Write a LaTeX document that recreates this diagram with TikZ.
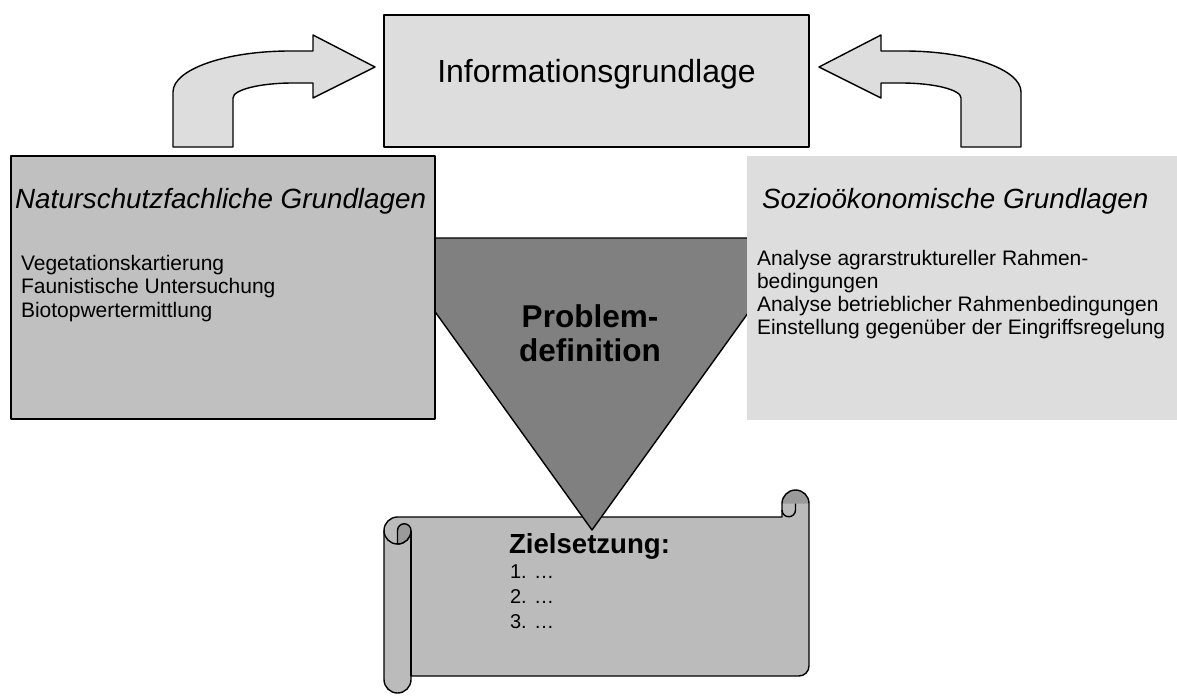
\documentclass[tikz,border=0pt]{standalone}
\usepackage{fontspec}
\setmainfont{Liberation Sans}

\definecolor{infofill}{HTML}{DDDDDD}
\definecolor{naturfill}{HTML}{C0C0C0}
\definecolor{soziofill}{HTML}{DDDDDD}
\definecolor{problemfill}{HTML}{808080}
\definecolor{scrollfill}{HTML}{BBBBBB}
\definecolor{curlfill}{HTML}{9A9A9A}

% outline of the "Zielsetzung" scroll (body plus both rolls)
\newcommand\zielscrollpath{(384,530.5) arc[start angle=180,end angle=90,radius=13.5pt]
  -- (782,517) -- (782,503.5) arc[start angle=180,end angle=0,radius=13.5pt]
  -- (809,666) arc[start angle=0,end angle=-90,radius=10pt]
  -- (411,676) -- (411,679.5) arc[start angle=0,end angle=-180,radius=13.5pt] -- cycle}

\begin{document}
\begin{tikzpicture}[x=1pt,y=-1pt,
  outline/.style={draw=black, line width=1.4pt, line join=round},
  txt/.style={inner sep=0pt, outer sep=0pt, text=black},
  boxnode/.style={rectangle, inner sep=0pt, outer sep=0pt, anchor=north west},
  listfont/.style={font=\fontsize{21}{24}\selectfont},
  titlefont/.style={font=\fontsize{27.8}{33}\selectfont\itshape},
]
\useasboundingbox (0,0) rectangle (1177,696);

% scroll: fills first, then the strokes
\fill[scrollfill] \zielscrollpath;
\fill[curlfill] (782,503.5) arc[start angle=180,end angle=0,radius=13.5pt] -- cycle;
\draw[outline] \zielscrollpath;
\draw[outline] (411,676) -- (411,530.5);
\draw[outline] (384,530.5) arc[start angle=180,end angle=360,radius=13.5pt];
\filldraw[fill=curlfill, outline] (397.5,530.5) arc[start angle=180,end angle=0,radius=6.75pt]
  arc[start angle=0,end angle=-90,radius=13.5pt] -- cycle;
\draw[outline] (795.5,503.5) -- (795.5,510) arc[start angle=0,end angle=-180,radius=6.75pt];

% problem definition funnel
\filldraw[fill=problemfill, outline] (382,238) coordinate (tl) -- (802,238) coordinate (tr)
  -- (592,530) coordinate (apex) -- cycle;

% the two source boxes
\node[boxnode, fill=naturfill, outline, minimum width=424pt, minimum height=263pt] (natur) at (11,156) {};
\node[boxnode, fill=soziofill, minimum width=430pt, minimum height=264pt] (sozio) at (747,156) {};

% information base
\node[boxnode, fill=infofill, outline, minimum width=425pt, minimum height=132pt] (info) at (384,15) {};

% curved block arrows feeding the information base
\filldraw[fill=infofill, outline] (173,147) -- (173,92) .. controls (173,69.4) and (225.4,51) .. (290,51)
  -- (313,51) -- (313,35) -- (375,67) -- (313,98) -- (313,83) -- (293,83)
  .. controls (259.9,83) and (233,89.7) .. (233,98) -- (233,147) -- cycle;
\filldraw[fill=infofill, outline] (1021,147) -- (1021,92) .. controls (1021,69.4) and (968.6,51) .. (904,51)
  -- (881,51) -- (881,35) -- (819,67) -- (881,98) -- (881,83) -- (901,83)
  .. controls (934.1,83) and (961,89.7) .. (961,98) -- (961,147) -- cycle;

% texts
\node[txt, anchor=base, font=\fontsize{32}{38}\selectfont] (infotext) at (596.5,82) {Informationsgrundlage};

\node[txt, anchor=base west, titlefont] (naturtitle) at (15,208) {Naturschutzfachliche Grundlagen};
\node[txt, anchor=base west, listfont] (n1) at (21,270) {Vegetationskartierung};
\node[txt, anchor=base west, listfont] (n2) at (21,293.5) {Faunistische Untersuchung};
\node[txt, anchor=base west, listfont] (n3) at (21,317) {Biotopwertermittlung};

\node[txt, anchor=base west, titlefont] (soziotitle) at (762,208) {Sozioökonomische Grundlagen};
\node[txt, anchor=base west, listfont] (s1) at (757,265) {Analyse agrarstruktureller Rahmen-};
\node[txt, anchor=base west, listfont] (s2) at (757,288) {bedingungen};
\node[txt, anchor=base west, listfont] (s3) at (757,311.5) {Analyse betrieblicher Rahmenbedingungen};
\node[txt, anchor=base west, listfont] (s4) at (757,334.5) {Einstellung gegenüber der Eingriffsregelung};

\node[txt, anchor=base, font=\fontsize{31.5}{36}\selectfont\bfseries] (p1) at (590,327) {Problem-};
\node[txt, anchor=base, font=\fontsize{31.5}{36}\selectfont\bfseries] (p2) at (590,361) {definition};

\node[txt, anchor=base west, font=\fontsize{27.6}{32}\selectfont\bfseries] (ziel) at (509,553) {Zielsetzung:};
\node[txt, anchor=base west, font=\fontsize{20}{24}\selectfont] (z1) at (510,578) {1. …};
\node[txt, anchor=base west, font=\fontsize{20}{24}\selectfont] (z2) at (510,603) {2. …};
\node[txt, anchor=base west, font=\fontsize{20}{24}\selectfont] (z3) at (510,628) {3. …};
\end{tikzpicture}
\end{document}
